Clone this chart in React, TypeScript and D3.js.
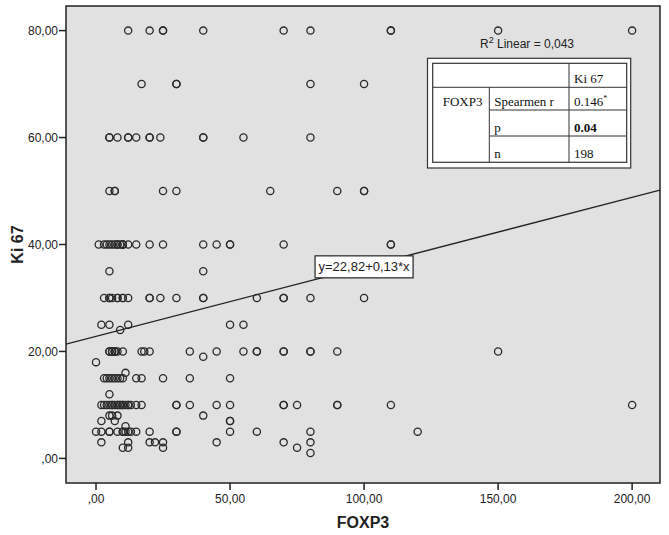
import * as d3 from "d3";

const ki67Levels = [80, 70, 60, 50, 40, 35, 30, 25, 24, 20, 19, 18, 16, 15, 12, 10, 8, 7, 6, 5, 3, 2, 1];
const foxp3AtLevel = [
  [12, 20, 25, 25, 40, 70, 80, 110, 110, 150, 200],
  [17, 30, 30, 80, 100],
  [5, 5, 8, 12, 12, 15, 20, 20, 24, 40, 40, 55, 80],
  [5, 7, 7, 25, 30, 65, 90, 100, 100],
  [1, 3, 4, 5, 6, 7, 8, 8, 9, 10, 10, 10, 12, 15, 20, 25, 40, 45, 50, 50, 70, 110, 110],
  [5, 40],
  [3, 5, 5, 6, 8, 8, 10, 10, 12, 20, 20, 24, 30, 40, 40, 60, 70, 70, 80, 100],
  [2, 5, 12, 50, 55],
  [9],
  [5, 5, 6, 6, 7, 7, 7, 8, 10, 17, 18, 20, 35, 45, 55, 60, 60, 70, 70, 80, 80, 90, 150],
  [40],
  [0],
  [11],
  [3, 4, 5, 6, 7, 8, 9, 10, 15, 17, 25, 35, 50],
  [5],
  [2, 3, 4, 5, 6, 6, 7, 8, 8, 9, 9, 10, 10, 11, 12, 12, 13, 15, 17, 30, 30, 35, 45, 50, 70, 70, 75, 90, 90, 110, 200],
  [5, 6, 8, 40],
  [2, 7, 50, 50],
  [11],
  [0, 2, 5, 5, 8, 10, 10, 11, 12, 13, 15, 20, 30, 30, 50, 60, 80, 120],
  [2, 12, 20, 22, 25, 45, 70, 80],
  [10, 12, 25, 75],
  [80],
];

const xTicks = [0, 50, 100, 150, 200];
const yTicks = [0, 20, 40, 60, 80];

const fitIntercept = 22.82;
const fitSlope = 0.13;
const fitLabel = "y=22,82+0,13*x";
const r2Value = "0,043";

// correlation table rows: [label, value, bold]
const tableRows = [
  ["Spearmen r", "0.146", false],
  ["p", "0.04", true],
  ["n", "198", false],
] as const;

const points = ki67Levels.flatMap((k, i) => foxp3AtLevel[i].map((f) => ({ f, k })));

const fmt = (d: number) => (d === 0 ? ",00" : `${d},00`);

export default function App() {
  const W = 669;
  const H = 535;
  const plot = { left: 66, right: 660, top: 6, bottom: 483 };

  const x = d3.scaleLinear().domain([-11.2, 210.4]).range([plot.left, plot.right]);
  const y = d3.scaleLinear().domain([-4.6, 84.6]).range([plot.bottom, plot.top]);

  const sans = "'Liberation Sans', Arial, sans-serif";
  const serif = "'Liberation Serif', 'Times New Roman', serif";

  const [x0, x1] = x.domain();
  const fitLine = d3
    .line<number>()
    .x((d) => x(d))
    .y((d) => y(fitIntercept + fitSlope * d))([x0, x1]);

  const eqX = x(100);
  const eqY = y(fitIntercept + fitSlope * 100);

  // table layout
  const tb = { left: 432.7, right: 626.7, top: 63.3 };
  const colA = 489.3;
  const colB = 569;
  const rowEdges = [63.3, 87.3, 110, 136, 162.3];

  return (
    <svg width={W} height={H} style={{ position: "absolute", left: 0, top: 0 }}>
      <rect x={0} y={0} width={W} height={H} fill="#fff" />
      <defs>
        <clipPath id="plotClip">
          <rect x={plot.left} y={plot.top} width={plot.right - plot.left} height={plot.bottom - plot.top} />
        </clipPath>
      </defs>
      <rect
        x={plot.left}
        y={plot.top}
        width={plot.right - plot.left}
        height={plot.bottom - plot.top}
        fill="#e1e1e1"
      />

      {/* points */}
      <g clipPath="url(#plotClip)">
        {points.map((p, i) => (
          <circle key={i} cx={x(p.f)} cy={y(p.k)} r={3.6} fill="none" stroke="#2a2a2a" strokeWidth={1.3} />
        ))}
        <path d={fitLine ?? ""} fill="none" stroke="#222" strokeWidth={1.4} />
      </g>

      <rect
        x={plot.left}
        y={plot.top}
        width={plot.right - plot.left}
        height={plot.bottom - plot.top}
        fill="none"
        stroke="#222"
        strokeWidth={1.5}
      />

      {/* y axis */}
      {yTicks.map((t) => (
        <g key={t}>
          <line x1={plot.left - 7} x2={plot.left} y1={y(t)} y2={y(t)} stroke="#222" strokeWidth={1.5} />
          <text x={plot.left - 8} y={y(t) + 4.3} textAnchor="end" fontFamily={sans} fontSize={12} fill="#222">
            {fmt(t)}
          </text>
        </g>
      ))}
      <text
        transform={`translate(23,${(plot.top + plot.bottom) / 2}) rotate(-90)`}
        textAnchor="middle"
        fontFamily={sans}
        fontSize={16}
        fontWeight="bold"
        fill="#222"
      >
        Ki 67
      </text>

      {/* x axis */}
      {xTicks.map((t) => (
        <g key={t}>
          <line x1={x(t)} x2={x(t)} y1={plot.bottom} y2={plot.bottom + 7} stroke="#222" strokeWidth={1.5} />
          <text x={x(t)} y={503} textAnchor="middle" fontFamily={sans} fontSize={12} fill="#222">
            {fmt(t)}
          </text>
        </g>
      ))}
      <text
        x={(plot.left + plot.right) / 2}
        y={528}
        textAnchor="middle"
        fontFamily={sans}
        fontSize={16}
        fontWeight="bold"
        fill="#222"
      >
        FOXP3
      </text>

      {/* equation label */}
      <rect x={eqX - 49} y={eqY - 11} width={98} height={22} fill="#fff" stroke="#222" strokeWidth={1.2} />
      <text x={eqX} y={eqY + 4.5} textAnchor="middle" fontFamily={sans} fontSize={13} fill="#222">
        {fitLabel}
      </text>

      {/* R2 label */}
      <text x={527} y={48} textAnchor="middle" fontFamily={sans} fontSize={12} fill="#222">
        R<tspan fontSize={9} dy={-5}>2</tspan>
        <tspan dy={5}> Linear = {r2Value}</tspan>
      </text>

      {/* correlation table */}
      <rect x={427.5} y={58.3} width={203.2} height={109.7} fill="#fff" stroke="#333" strokeWidth={1.2} />
      <rect
        x={tb.left}
        y={tb.top}
        width={tb.right - tb.left}
        height={rowEdges[4] - tb.top}
        fill="#fff"
        stroke="#333"
        strokeWidth={1.2}
      />
      <line x1={tb.left} x2={tb.right} y1={rowEdges[1]} y2={rowEdges[1]} stroke="#333" strokeWidth={1} />
      <line x1={colA} x2={tb.right} y1={rowEdges[2]} y2={rowEdges[2]} stroke="#333" strokeWidth={1} />
      <line x1={colA} x2={tb.right} y1={rowEdges[3]} y2={rowEdges[3]} stroke="#333" strokeWidth={1} />
      <line x1={colA} x2={colA} y1={rowEdges[1]} y2={rowEdges[4]} stroke="#333" strokeWidth={1} />
      <line x1={colB} x2={colB} y1={tb.top} y2={rowEdges[4]} stroke="#333" strokeWidth={1} />

      <text x={colB + 5} y={rowEdges[1] - 4} fontFamily={serif} fontSize={13} fill="#111">
        Ki 67
      </text>
      <text x={tb.left + 10} y={rowEdges[2] - 4.5} fontFamily={serif} fontSize={13} fill="#111">
        FOXP3
      </text>
      {tableRows.map(([label, value, bold], i) => (
        <g key={label}>
          <text x={colA + 5} y={rowEdges[i + 2] - 4.5} fontFamily={serif} fontSize={13} fill="#111">
            {label}
          </text>
          <text
            x={colB + 5}
            y={rowEdges[i + 2] - 4.5}
            fontFamily={serif}
            fontSize={13}
            fontWeight={bold ? "bold" : "normal"}
            fill="#111"
          >
            {value}
            {i === 0 && (
              <tspan fontSize={8} dy={-5}>
                *
              </tspan>
            )}
          </text>
        </g>
      ))}
    </svg>
  );
}
